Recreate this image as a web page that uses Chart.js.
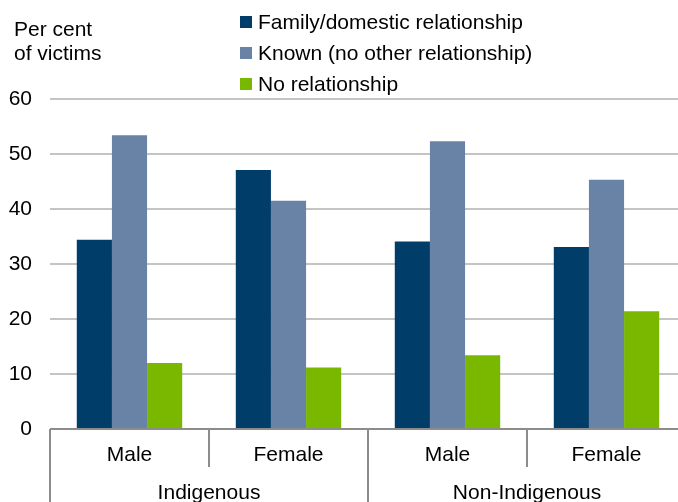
<!DOCTYPE html>
<html>
<head>
<meta charset="utf-8">
<script src="https://cdn.jsdelivr.net/npm/chart.js@4/dist/chart.umd.min.js"></script>
<style>
  html, body { margin: 0; padding: 0; background: #fff; overflow: hidden; }
  #wrap { position: relative; width: 678px; height: 502px; overflow: hidden; }
  canvas { position: absolute; left: 0; top: 0; }
  .ytitle { position: absolute; left: 14px; top: 17px; font: 21px "Liberation Sans", Arial, sans-serif; line-height: 24px; color: #000; }
  #legend { position: absolute; left: 240px; top: 9px; font: 21px "Liberation Sans", Arial, sans-serif; color: #000; }
  #legend div { height: 31px; line-height: 26px; white-space: nowrap; }
  #legend span.box { display: inline-block; width: 12px; height: 12px; margin-right: 6px; vertical-align: 1px; }
</style>
</head>
<body>
<div id="wrap">
  <canvas id="chart" width="690" height="502"></canvas>
  <div class="ytitle">Per cent<br>of victims</div>
  <div id="legend"></div>
</div>
<script>
const categories = ['Male', 'Female', 'Male', 'Female'];
const groups = ['Indigenous', 'Non-Indigenous'];
const seriesNames = ['Family/domestic relationship', 'Known (no other relationship)', 'No relationship'];
const familyValues = [34.4, 47.1, 34.1, 33.1];
const knownValues = [53.4, 41.5, 52.3, 45.3];
const noRelValues = [12.0, 11.2, 13.4, 21.4];
const seriesColors = ['#003d69', '#6883a5', '#7ab800'];
const yTicks = [0, 10, 20, 30, 40, 50, 60];

const FONT = '"Liberation Sans", Arial, sans-serif';

// legend as html, left-aligned stack
const legendEl = document.getElementById('legend');
seriesNames.forEach((name, i) => {
    const row = document.createElement('div');
    const box = document.createElement('span');
    box.className = 'box';
    box.style.background = seriesColors[i];
    row.appendChild(box);
    row.appendChild(document.createTextNode(name));
    legendEl.appendChild(row);
});

// divider lines under the x axis plus the outer group labels
const groupAxis = {
    id: 'groupAxis',
    afterDraw(chart) {
        const x = chart.scales.x;
        const ctx = chart.ctx;
        const area = chart.chartArea;
        const step = x.getPixelForValue(1) - x.getPixelForValue(0);
        const per = categories.length / groups.length;
        ctx.save();
        ctx.strokeStyle = '#8c8c8c';
        ctx.lineWidth = 2;
        for (let i = 0; i <= categories.length; i++) {
            const px = Math.round(x.getPixelForValue(0) - step / 2 + i * step);
            const full = i % per === 0;
            ctx.beginPath();
            ctx.moveTo(px, area.bottom);
            ctx.lineTo(px, full ? chart.height : area.bottom + 38);
            ctx.stroke();
        }
        ctx.beginPath();
        ctx.moveTo(area.left, area.bottom);
        ctx.lineTo(area.right, area.bottom);
        ctx.stroke();

        ctx.fillStyle = '#000';
        ctx.font = '21px ' + FONT;
        ctx.textAlign = 'center';
        ctx.textBaseline = 'middle';
        groups.forEach((g, gi) => {
            const a = x.getPixelForValue(gi * per);
            const b = x.getPixelForValue(gi * per + per - 1);
            ctx.fillText(g, (a + b) / 2, area.bottom + 64);
        });
        ctx.restore();
    }
};

new Chart(document.getElementById('chart'), {
    type: 'bar',
    data: {
        labels: categories,
        datasets: [
            { label: seriesNames[0], data: familyValues, backgroundColor: seriesColors[0] },
            { label: seriesNames[1], data: knownValues, backgroundColor: seriesColors[1] },
            { label: seriesNames[2], data: noRelValues, backgroundColor: seriesColors[2] }
        ]
    },
    options: {
        responsive: false,
        animation: false,
        layout: { padding: { top: 99, right: 4, left: 0, bottom: 0 } },
        datasets: {
            bar: { categoryPercentage: 0.663, barPercentage: 1.0, borderWidth: 0 }
        },
        scales: {
            x: {
                grid: { display: false, drawTicks: false },
                border: { display: false },
                ticks: { color: '#000', font: { family: FONT, size: 21 }, padding: 14, maxRotation: 0 },
                afterFit(scale) {
                    scale.height = 73;
                    scale.paddingLeft = 0;
                    scale.paddingRight = 0;
                }
            },
            y: {
                min: 0,
                max: 60,
                afterBuildTicks(scale) {
                    scale.ticks = yTicks.map(v => ({ value: v }));
                },
                grid: { color: '#c4c4c4', lineWidth: 2, drawTicks: false },
                border: { display: false },
                ticks: { color: '#000', font: { family: FONT, size: 21 }, padding: 18 },
                afterFit(scale) {
                    scale.width = 50;
                    scale.paddingTop = 0;
                    scale.paddingBottom = 0;
                }
            }
        },
        plugins: {
            legend: { display: false },
            tooltip: { enabled: false }
        }
    },
    plugins: [groupAxis]
});
</script>
</body>
</html>
